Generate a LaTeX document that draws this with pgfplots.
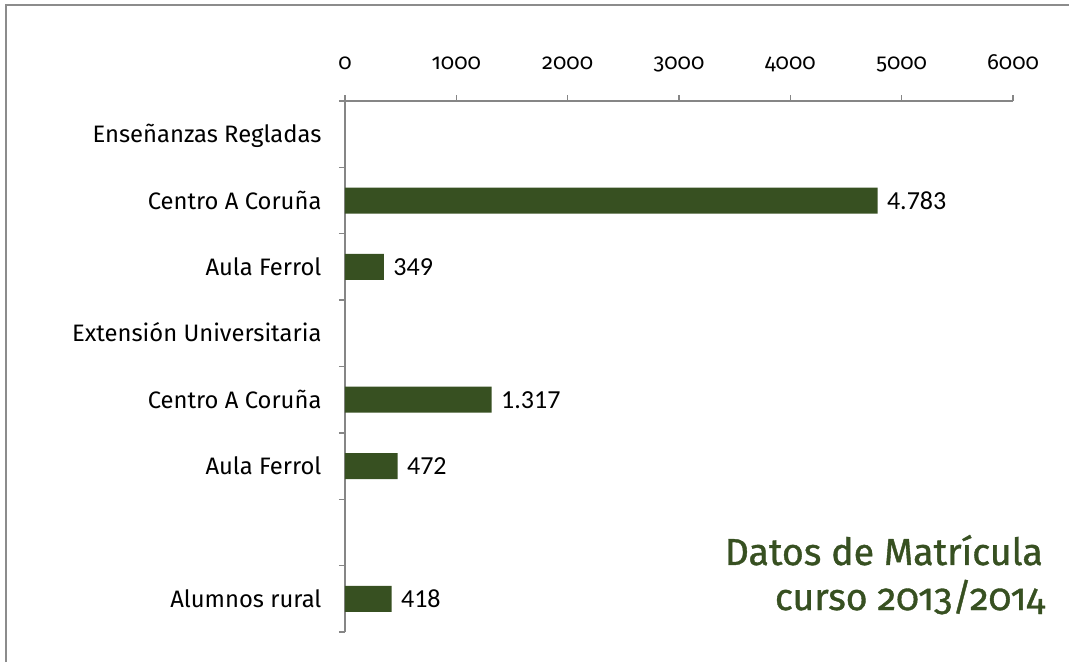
\documentclass[border=0pt]{standalone}
\usepackage{fontspec}
\setmainfont{Fira Sans}[Numbers=OldStyle]
\newfontfamily\valfont{Carlito}
\usepackage{pgfplots}
\pgfplotsset{compat=1.18}
\definecolor{bargreen}{RGB}{55,80,33}
\definecolor{axgray}{RGB}{134,134,134}
\definecolor{framegray}{RGB}{140,140,140}
\begin{document}
\begin{tikzpicture}[x=1pt,y=1pt]
\path[use as bounding box] (0,0) rectangle (1069,662);
\draw[framegray, line width=2pt] (6,0) -- (6,656.5) -- (1069,656.5);
\begin{axis}[
  at={(345pt,30pt)}, anchor=south west,
  scale only axis, width=668pt, height=531pt,
  xmin=0, xmax=6000, ymin=-0.5, ymax=7.5, y dir=reverse,
  axis x line*=top, axis y line*=left,
  axis line style={axgray, line width=1.3pt},
  xtick={0,1000,...,6000},
  typeset ticklabels with strut,
  xticklabel style={font=\fontsize{22}{26}\selectfont, yshift=14pt,
    /pgf/number format/.cd, fixed, precision=0, 1000 sep={}},
  /pgf/number format/assume math mode=true,
  scaled x ticks=false,
  ytick={0,...,7},
  yticklabels={Enseñanzas Regladas, Centro A Coruña, Aula Ferrol, Extensión Universitaria, Centro A Coruña, Aula Ferrol, {}, Alumnos rural},
  yticklabel style={font=\fontsize{23.8}{28}\selectfont, anchor=east, xshift=-14pt, yshift=-3pt},
  major y tick style={draw=none},
  minor ytick={-0.5,0.5,...,7.5},
  tick align=outside,
  major tick length=6pt, minor tick length=6pt,
  tick style={axgray, line width=1.3pt},
  xbar, bar width=26pt,
  nodes near coords,
  point meta=x,
  nodes near coords style={font=\valfont\fontsize{26}{30}\selectfont, black, xshift=6pt,
    /pgf/number format/.cd, fixed, precision=0, 1000 sep={.}},
]
\addplot[fill=bargreen, draw=none] coordinates {(4783,1) (349,2) (1317,4) (472,5) (418,7)};
\end{axis}
\begin{scope}[every node/.style={anchor=base east, text=bargreen, font=\fontsize{37.5}{45}\selectfont\addfontfeature{FakeBold=1}, inner sep=0pt}]
\node at (1043,97) {Datos de Matrícula};
\node at (1045,52) {curso 2013/2014};
\end{scope}
\end{tikzpicture}
\end{document}
